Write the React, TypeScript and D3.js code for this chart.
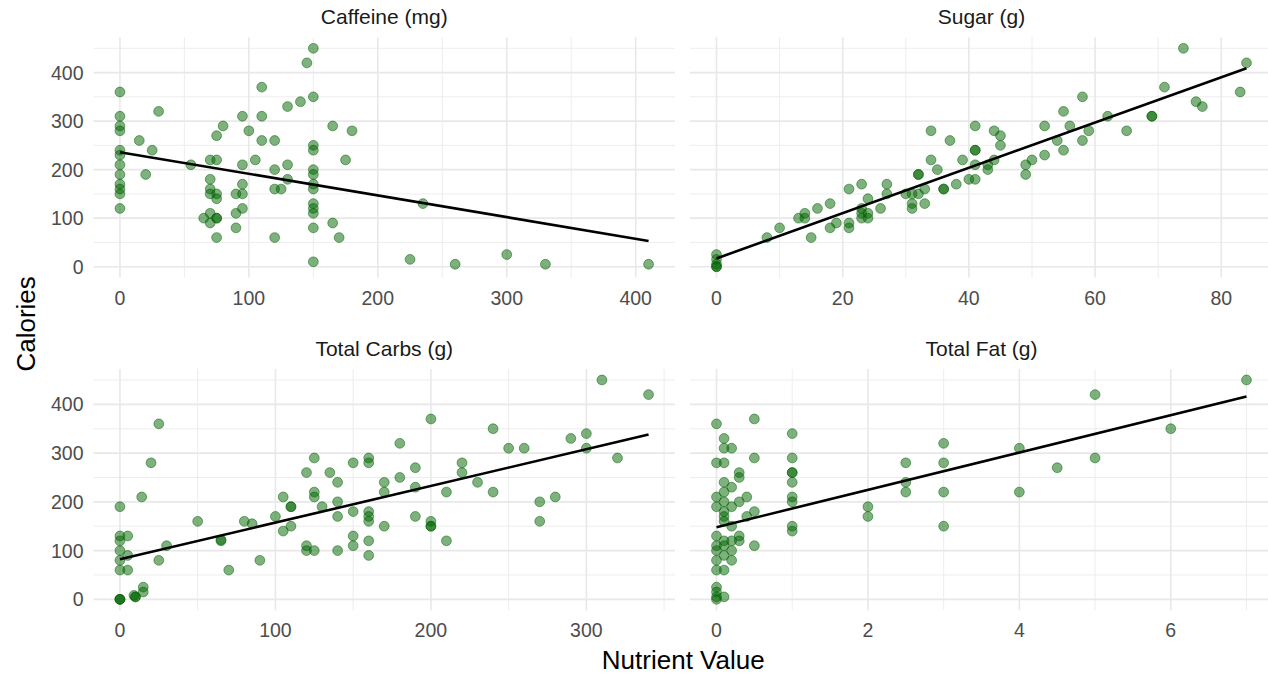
import React from "react";
import * as d3 from "d3";

const panelTitles = ["Caffeine (mg)", "Sugar (g)", "Total Carbs (g)", "Total Fat (g)"];

const caffeineX = [0,0,0,0,0,0,0,0,0,0,0,0,15,20,25,30,55,65,70,75,70,70,70,75,75,70,75,75,70,75,75,80,90,90,90,95,95,95,95,95,100,105,110,110,110,120,120,120,125,120,130,130,130,140,145,150,150,150,150,150,150,150,150,150,150,150,150,150,165,165,170,175,180,235,225,260,300,330,410];
const caffeineCal = [360,310,290,280,240,230,210,190,170,160,150,120,260,190,240,320,210,100,220,220,180,160,150,150,140,110,100,100,90,60,270,290,150,110,80,310,210,170,150,120,280,220,370,310,260,260,200,160,160,60,330,210,180,340,420,450,350,250,240,200,190,170,160,130,120,110,80,10,290,90,60,220,280,130,15,5,25,5,5];

const sugarX = [0,0,0,0,0,8,10,13,14,14,15,16,18,18,19,21,21,21,23,23,23,23,24,24,24,26,27,27,30,31,31,31,32,32,32,33,33,34,34,35,36,36,37,38,39,40,41,41,41,41,41,43,43,44,44,45,45,49,49,50,52,52,54,55,55,56,58,58,59,62,65,69,69,71,74,76,77,83,84];
const sugarCal = [25,15,5,0,0,60,80,100,110,100,60,120,130,80,90,160,90,80,170,120,110,100,140,110,100,120,170,150,150,150,130,120,190,190,150,160,130,280,220,200,160,160,260,170,220,180,290,240,240,210,180,210,200,280,220,270,250,210,190,220,290,230,260,320,240,290,350,260,280,310,280,310,310,370,450,340,330,360,420];

const carbsX = [0,0,0,5,0,0,5,0,5,0,0,0,10,9,10,15,15,14,20,25,25,30,50,65,65,70,80,85,90,100,105,105,110,110,110,120,120,120,125,125,125,125,130,135,140,140,140,140,150,150,150,150,160,160,160,160,160,160,160,170,170,170,180,180,190,190,190,200,200,200,200,210,210,220,220,230,240,240,250,260,270,270,280,290,300,300,310,320,340];
const carbsCal = [190,130,120,130,100,80,90,60,60,0,0,0,5,8,5,25,15,210,280,360,80,110,160,120,122,60,160,155,80,170,210,140,190,190,150,260,110,100,290,220,210,100,190,260,240,200,170,100,280,180,130,110,290,280,180,170,160,120,90,240,220,150,320,250,270,230,170,370,160,150,150,220,120,280,260,240,350,220,310,310,200,160,210,330,340,310,450,290,420];

const fatX = [0,0.1,0.1,0.2,0.5,0,0.1,0.5,1,1,1,1,1,1,1,1,1,0.3,0.3,0.1,0.2,0,0.1,0,0.1,0.2,0.4,0.3,0.5,0.4,0.1,0.1,0.1,0.2,0,0.1,0.2,0.3,0.3,0,0.1,0,0.2,0.1,0,0.2,0.5,0,0.1,0,0,0,0.1,0,2,2,2.5,2.5,2.5,3,3,3,3,4,4,4.5,5,5,6,7];
const fatCal = [360,330,310,310,370,280,280,290,340,290,260,260,240,210,200,150,140,260,250,240,230,210,220,190,200,190,210,200,180,170,180,170,160,150,130,120,120,130,120,110,110,100,100,90,80,80,110,60,60,25,15,5,5,0,190,170,280,240,220,320,280,220,150,310,220,270,420,290,350,450];

const seriesX = [caffeineX, sugarX, carbsX, fatX];
const seriesY = [caffeineCal, sugarCal, carbsCal, fatCal];

const xTicks = [[0,100,200,300,400],[0,20,40,60,80],[0,100,200,300],[0,2,4,6]];
const xMinorTicks = [[50,150,250,350],[10,30,50,70],[50,150,250,350],[1,3,5,7]];
const yTicks = [0,100,200,300,400];
const yMinorTicks = [50,150,250,350,450];

// fitted line values at the min and max of each panel's x
const fitStart = [236, 17, 82, 148];
const fitEnd = [53, 409, 338, 416];

const W = 1268, H = 674;
const cols = [[93.5, 675], [690, 1273]];
const rows = [[37.4, 277.6], [369, 610.3]];
const FONT = "'Liberation Sans', Arial, Helvetica, sans-serif";

function expand(ext: [number, number]): [number, number] {
  const r = ext[1] - ext[0];
  return [ext[0] - r * 0.05, ext[1] + r * 0.05];
}

export default function App() {
  const allY = seriesY.flat();
  const yDom = expand(d3.extent(allY) as [number, number]);
  return (
    <svg width={W} height={H} style={{ position: "absolute", left: 0, top: 0, background: "#fff" }} fontFamily={FONT}>
      <rect x={0} y={0} width={W} height={H} fill="#fff" />
      {panelTitles.map((title, i) => {
        const c = cols[i % 2], r = rows[Math.floor(i / 2)];
        const xs = seriesX[i], ys = seriesY[i];
        const xExt = d3.extent(xs) as [number, number];
        const x = d3.scaleLinear().domain(expand(xExt)).range(c);
        const y = d3.scaleLinear().domain(yDom).range([r[1], r[0]]);
        const line = d3.line<[number, number]>().x(d => x(d[0])).y(d => y(d[1]));
        const fit: [number, number][] = [[xExt[0], fitStart[i]], [xExt[1], fitEnd[i]]];
        return (
          <g key={title}>
            {yMinorTicks.map(t => (
              <line key={"ym" + t} x1={c[0]} x2={c[1]} y1={y(t)} y2={y(t)} stroke="#EBEBEB" strokeWidth={0.9} />
            ))}
            {xMinorTicks[i].map(t => (
              <line key={"xm" + t} x1={x(t)} x2={x(t)} y1={r[0]} y2={r[1]} stroke="#EBEBEB" strokeWidth={0.9} />
            ))}
            {yTicks.map(t => (
              <line key={"y" + t} x1={c[0]} x2={c[1]} y1={y(t)} y2={y(t)} stroke="#E8E8E8" strokeWidth={1.6} />
            ))}
            {xTicks[i].map(t => (
              <line key={"x" + t} x1={x(t)} x2={x(t)} y1={r[0]} y2={r[1]} stroke="#E8E8E8" strokeWidth={1.6} />
            ))}
            {xs.map((v, j) => (
              <circle key={j} cx={x(v)} cy={y(ys[j])} r={4.9} fill="#006400" fillOpacity={0.5}
                stroke="#006400" strokeOpacity={0.5} strokeWidth={1} />
            ))}
            <path d={line(fit) || ""} stroke="#000" strokeWidth={2.6} fill="none" />
            <text x={(c[0] + c[1]) / 2} y={r[0] - 13} textAnchor="middle" fontSize={21} fill="#1A1A1A">
              {title}
            </text>
            {xTicks[i].map(t => (
              <text key={"xl" + t} x={x(t)} y={r[1] + 27} textAnchor="middle" fontSize={19.5} fill="#4D4D4D">{t}</text>
            ))}
            {i % 2 === 0 && yTicks.map(t => (
              <text key={"yl" + t} x={c[0] - 10} y={y(t)} dy="0.36em" textAnchor="end" fontSize={19.5} fill="#4D4D4D">{t}</text>
            ))}
          </g>
        );
      })}
      <text x={(cols[0][0] + cols[1][1]) / 2} y={669} textAnchor="middle" fontSize={26} fill="#000">Nutrient Value</text>
      <text transform={`translate(35,${(rows[0][0] + rows[1][1]) / 2}) rotate(-90)`} textAnchor="middle" fontSize={26} fill="#000">Calories</text>
    </svg>
  );
}
